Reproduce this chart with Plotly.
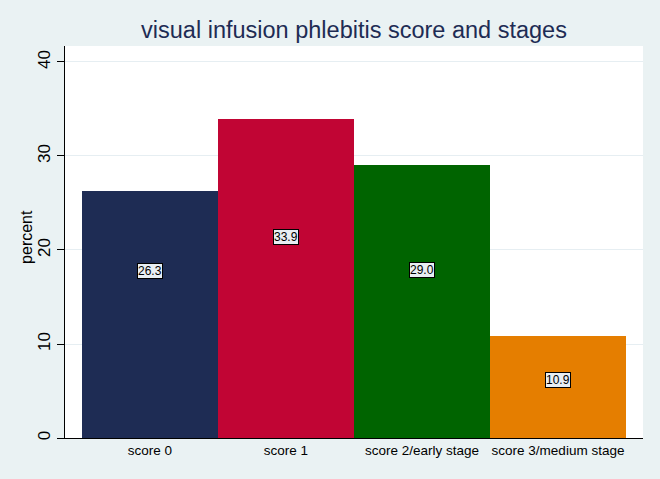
import plotly.graph_objects as go

categories = ["score 0", "score 1", "score 2/early stage", "score 3/medium stage"]
values = [26.3, 33.9, 29.0, 10.9]
labels = ["26.3", "33.9", "29.0", "10.9"]
label_y = [17.8, 21.4, 17.9, 6.2]
colors = ["#1e2c54", "#c10534", "#006400", "#e57e00"]
y_ticks = [0, 10, 20, 30, 40]

x = list(range(len(categories)))

fig = go.Figure()
fig.add_trace(go.Bar(
    x=x, y=values, width=1.0,
    marker=dict(color=colors, line=dict(width=0)),
    showlegend=False, hoverinfo="skip",
))

for xi, ly, lab in zip(x, label_y, labels):
    fig.add_annotation(
        x=xi, y=ly, text=lab, showarrow=False,
        font=dict(family="Liberation Sans, Arial", size=12, color="black"),
        bgcolor="#e8eef3", bordercolor="black", borderwidth=1, borderpad=0,
    )

# y-axis title
fig.add_annotation(
    xref="paper", yref="paper", x=-38 / 578, y=0.513,
    xanchor="center", yanchor="middle", textangle=-90,
    text="percent", showarrow=False,
    font=dict(family="Liberation Sans, Arial", size=16, color="black"),
)

fig.update_layout(
    width=660, height=479,
    paper_bgcolor="#eaf2f3", plot_bgcolor="white",
    margin=dict(l=65, r=17, t=46, b=41),
    title=dict(text="visual infusion phlebitis score and stages",
               xref="paper", x=0.5, xanchor="center", y=0.937, yanchor="middle",
               font=dict(family="Liberation Sans, Arial", size=23.5, color="#1e2c54")),
    bargap=0,
    font=dict(family="Liberation Sans, Arial", color="black"),
)
fig.update_xaxes(
    tickmode="array", tickvals=x, ticktext=categories,
    range=[-0.625, 3.625],
    showline=True, linecolor="black", linewidth=1,
    ticks="", showgrid=False, zeroline=False,
    tickfont=dict(size=13.5, color="black"),
)
fig.update_yaxes(
    tickmode="array", tickvals=y_ticks, ticktext=[str(t) for t in y_ticks],
    range=[0, 41.7],
    showline=True, linecolor="black", linewidth=1,
    ticks="outside", ticklen=7, tickcolor="black",
    ticklabelstandoff=0,
    tickangle=-90,
    showgrid=True, gridcolor="#e6eef2", gridwidth=1, zeroline=False,
    tickfont=dict(size=17, color="black"),
)

fig.write_html("out.html")
